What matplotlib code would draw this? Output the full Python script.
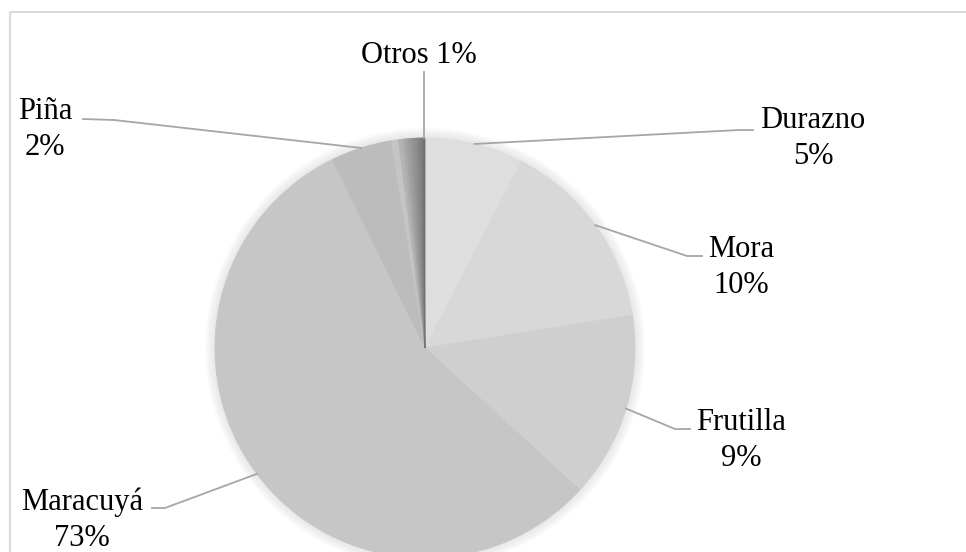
import matplotlib.pyplot as plt
from matplotlib.patches import Circle
import numpy as np

# slice sizes (percent of the circle)
fruits = ['Durazno', 'Mora', 'Frutilla', 'Maracuyá', 'Piña']
sizes = [7.6, 14.9, 14.3, 55.9, 4.7]
# "Otros" is drawn as many thin slices at the top
otros_sizes = [0.55, 0.3, 0.25, 0.22, 0.2, 0.2, 0.18, 0.16, 0.15, 0.14, 0.12, 0.1]
# percentages written on the labels
label_pct = ['5%', '10%', '9%', '73%', '2%']
otros_label = 'Otros 1%'

fruit_colors = ['#dedede', '#d8d8d8', '#cfcfcf', '#c6c6c6', '#bcbcbc']
otros_colors = ['#c4c4c4', '#b4b4b4', '#acacac', '#a2a2a2', '#9c9c9c', '#959595',
                '#8f8f8f', '#8a8a8a', '#848484', '#7e7e7e', '#787878', '#707070']

W, H = 966, 552
def Y(p):
    return H - p

cx, cy, R = 425, Y(348), 210

fig = plt.figure(figsize=(9.66, 5.52), dpi=100)
ax = fig.add_axes([0, 0, 1, 1])

# soft shadow around the pie
for k in range(1, 11):
    ax.add_patch(Circle((cx, cy), R + k, color='#909090', alpha=0.02, lw=0, zorder=0))

wedges, _ = ax.pie(sizes + otros_sizes, colors=fruit_colors + otros_colors,
                   startangle=90, counterclock=False, center=(cx, cy), radius=R,
                   wedgeprops={'linewidth': 0.6}, frame=False)
for w in wedges:
    w.set_edgecolor(w.get_facecolor())
    w.set_zorder(1)

ax.set_xlim(0, W)
ax.set_ylim(0, H)
ax.set_aspect('equal')
ax.axis('off')

# chart frame (cut at the right and bottom)
ax.plot([10, W], [Y(12), Y(12)], color='#d9d9d9', lw=1.5, solid_capstyle='butt')
ax.plot([10, 10], [Y(12), 0], color='#d9d9d9', lw=1.5, solid_capstyle='butt')

def edge_point(w):
    mid = np.deg2rad((w.theta1 + w.theta2) / 2)
    return cx + R * np.cos(mid), cy + R * np.sin(mid)

font = dict(family='Liberation Serif', fontsize=22, color='black')
line = dict(color='#a6a6a6', lw=1.3, zorder=2)

# label layout: elbow, line end, text centre x, first baseline y (pixels)
layout = [
    ((739, 130), (753, 130), 813, 128),
    ((687, 256), (702, 256), 741, 257),
    ((675, 429), (690, 429), 741, 430),
    ((165, 508), (152, 508), 82, 510),
    ((114, 120), (83, 119), 45, 119),
]

for i, name in enumerate(fruits):
    ex, ey = edge_point(wedges[i])
    (kx, ky), (tx, ty), lx, by = layout[i]
    ax.plot([ex, kx, tx], [ey, Y(ky), Y(ty)], **line)
    ax.text(lx, Y(by), name, ha='center', va='baseline', **font)
    ax.text(lx, Y(by + 36), label_pct[i], ha='center', va='baseline', **font)

# Otros label with a vertical leader
ex, ey = edge_point(wedges[-1])
ax.plot([ex, ex], [ey, Y(72)], **line)
ax.text(419, Y(63), otros_label, ha='center', va='baseline', **font)

fig.savefig('out.png', dpi=100)
